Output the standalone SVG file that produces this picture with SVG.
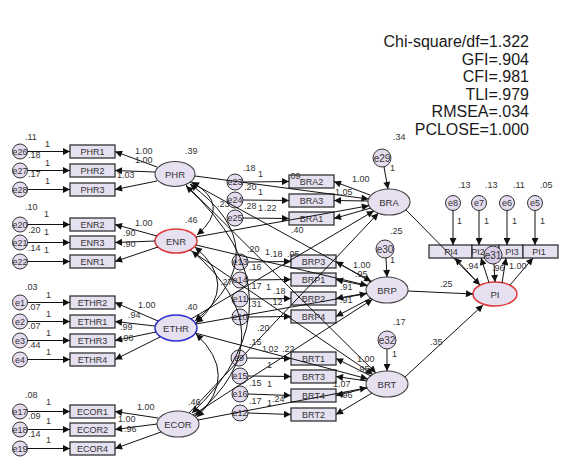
<svg xmlns="http://www.w3.org/2000/svg" width="561" height="461" viewBox="0 0 561 461">
<defs>
<marker id="ah" viewBox="0 0 10 10" refX="10" refY="5" markerWidth="9" markerHeight="7" markerUnits="userSpaceOnUse" orient="auto-start-reverse">
<path d="M0,0 L10,5 L0,10 z" fill="#111"/>
</marker>
</defs>
<style>
.box{fill:#e6e1f0;stroke:#333;stroke-width:1.3}
.lat{fill:#e6e0f0;stroke:#444;stroke-width:1.1}
.err{fill:#e4dcee;stroke:#333;stroke-width:1}
.t{font-family:"Liberation Sans",Arial,sans-serif;font-size:9px;fill:#333}
.c{text-anchor:middle}
.bl{font-size:9px}
.ll{font-size:9.5px}
.fit{font-family:"Liberation Sans",Arial,sans-serif;font-size:16px;fill:#1a1a1a;text-anchor:end}
.ln{stroke:#111;stroke-width:1;fill:none;marker-end:url(#ah)}
.cv{stroke:#111;stroke-width:1;fill:none;marker-start:url(#ah);marker-end:url(#ah)}
</style>
<rect width="561" height="461" fill="#fff"/>

<g id="fit">
<text class="fit" x="529" y="47">Chi-square/df=1.322</text>
<text class="fit" x="529" y="64.5">GFI=.904</text>
<text class="fit" x="529" y="82">CFI=.981</text>
<text class="fit" x="529" y="99.5">TLI=.979</text>
<text class="fit" x="529" y="117">RMSEA=.034</text>
<text class="fit" x="529" y="134.5">PCLOSE=1.000</text>
</g>

<g id="PHR1"><rect class="box" x="70" y="145" width="45" height="13"/><text class="t bl c" x="92.5" y="154.8">PHR1</text></g>
<g id="PHR2"><rect class="box" x="70" y="164" width="45" height="13"/><text class="t bl c" x="92.5" y="173.8">PHR2</text></g>
<g id="PHR3"><rect class="box" x="70" y="183" width="45" height="13"/><text class="t bl c" x="92.5" y="192.8">PHR3</text></g>
<g id="ENR2"><rect class="box" x="70" y="218" width="45" height="13"/><text class="t bl c" x="92.5" y="227.8">ENR2</text></g>
<g id="ENR3"><rect class="box" x="70" y="236" width="45" height="13"/><text class="t bl c" x="92.5" y="245.8">ENR3</text></g>
<g id="ENR1"><rect class="box" x="70" y="255" width="45" height="13"/><text class="t bl c" x="92.5" y="264.8">ENR1</text></g>
<g id="ETHR2"><rect class="box" x="70" y="296" width="45" height="13"/><text class="t bl c" x="92.5" y="305.8">ETHR2</text></g>
<g id="ETHR1"><rect class="box" x="70" y="315" width="45" height="13"/><text class="t bl c" x="92.5" y="324.8">ETHR1</text></g>
<g id="ETHR3"><rect class="box" x="70" y="334" width="45" height="13"/><text class="t bl c" x="92.5" y="343.8">ETHR3</text></g>
<g id="ETHR4"><rect class="box" x="70" y="353" width="45" height="13"/><text class="t bl c" x="92.5" y="362.8">ETHR4</text></g>
<g id="ECOR1"><rect class="box" x="70" y="405" width="45" height="13"/><text class="t bl c" x="92.5" y="414.8">ECOR1</text></g>
<g id="ECOR2"><rect class="box" x="70" y="423" width="45" height="13"/><text class="t bl c" x="92.5" y="432.8">ECOR2</text></g>
<g id="ECOR4"><rect class="box" x="70" y="442" width="45" height="13"/><text class="t bl c" x="92.5" y="451.8">ECOR4</text></g>

<g id="e26"><circle class="err" cx="20" cy="151.5" r="7.5"/><text class="t c" x="20" y="154.5">e26</text></g>
<g id="e27"><circle class="err" cx="20" cy="170.5" r="7.5"/><text class="t c" x="20" y="173.5">e27</text></g>
<g id="e28"><circle class="err" cx="20" cy="189.5" r="7.5"/><text class="t c" x="20" y="192.5">e28</text></g>
<g id="e20"><circle class="err" cx="20" cy="224.5" r="7.5"/><text class="t c" x="20" y="227.5">e20</text></g>
<g id="e21"><circle class="err" cx="20" cy="242.5" r="7.5"/><text class="t c" x="20" y="245.5">e21</text></g>
<g id="e22"><circle class="err" cx="20" cy="261.5" r="7.5"/><text class="t c" x="20" y="264.5">e22</text></g>
<g id="e1"><circle class="err" cx="20" cy="302.5" r="7.5"/><text class="t c" x="20" y="305.5">e1</text></g>
<g id="e2"><circle class="err" cx="20" cy="321.5" r="7.5"/><text class="t c" x="20" y="324.5">e2</text></g>
<g id="e3"><circle class="err" cx="20" cy="340.5" r="7.5"/><text class="t c" x="20" y="343.5">e3</text></g>
<g id="e4"><circle class="err" cx="20" cy="359.5" r="7.5"/><text class="t c" x="20" y="362.5">e4</text></g>
<g id="e17"><circle class="err" cx="20" cy="411.5" r="7.5"/><text class="t c" x="20" y="414.5">e17</text></g>
<g id="e18"><circle class="err" cx="20" cy="429.5" r="7.5"/><text class="t c" x="20" y="432.5">e18</text></g>
<g id="e19"><circle class="err" cx="20" cy="448.5" r="7.5"/><text class="t c" x="20" y="451.5">e19</text></g>

<g id="PHR"><ellipse class="lat" cx="175" cy="174" rx="20" ry="12.5"/><text class="t ll c" x="175" y="177.5">PHR</text></g>
<g id="ENR"><ellipse class="lat" cx="176" cy="241" rx="21" ry="12" style="stroke:#e03a3a;stroke-width:1.5"/><text class="t ll c" x="176" y="244.5">ENR</text></g>
<g id="ETHR"><ellipse class="lat" cx="176" cy="328" rx="21" ry="13" style="stroke:#2a2ad0;stroke-width:1.5"/><text class="t ll c" x="176" y="331.5">ETHR</text></g>
<g id="ECOR"><ellipse class="lat" cx="178" cy="424" rx="21" ry="13"/><text class="t ll c" x="178" y="427.5">ECOR</text></g>
<g id="BRA"><ellipse class="lat" cx="389" cy="202" rx="21" ry="13"/><text class="t ll c" x="389" y="205.5">BRA</text></g>
<g id="BRP"><ellipse class="lat" cx="387" cy="290" rx="21" ry="13"/><text class="t ll c" x="387" y="293.5">BRP</text></g>
<g id="BRT"><ellipse class="lat" cx="387" cy="384" rx="21" ry="13"/><text class="t ll c" x="387" y="387.5">BRT</text></g>

<g id="BRA2"><rect class="box" x="289" y="175" width="45" height="13"/><text class="t bl c" x="311.5" y="184.8">BRA2</text></g>
<g id="BRA3"><rect class="box" x="289" y="194" width="45" height="13"/><text class="t bl c" x="311.5" y="203.8">BRA3</text></g>
<g id="BRA1"><rect class="box" x="289" y="212" width="45" height="13"/><text class="t bl c" x="311.5" y="221.8">BRA1</text></g>
<g id="BRP3"><rect class="box" x="291" y="255" width="45" height="13"/><text class="t bl c" x="313.5" y="264.8">BRP3</text></g>
<g id="BRP1"><rect class="box" x="291" y="273" width="45" height="13"/><text class="t bl c" x="313.5" y="282.8">BRP1</text></g>
<g id="BRP2"><rect class="box" x="291" y="292" width="45" height="13"/><text class="t bl c" x="313.5" y="301.8">BRP2</text></g>
<g id="BRP4"><rect class="box" x="291" y="310" width="45" height="13"/><text class="t bl c" x="313.5" y="319.8">BRP4</text></g>
<g id="BRT1"><rect class="box" x="291" y="352" width="45" height="13"/><text class="t bl c" x="313.5" y="361.8">BRT1</text></g>
<g id="BRT3"><rect class="box" x="291" y="370" width="45" height="13"/><text class="t bl c" x="313.5" y="379.8">BRT3</text></g>
<g id="BRT4"><rect class="box" x="291" y="389" width="45" height="13"/><text class="t bl c" x="313.5" y="398.8">BRT4</text></g>
<g id="BRT2"><rect class="box" x="291" y="408" width="45" height="13"/><text class="t bl c" x="313.5" y="417.8">BRT2</text></g>

<g id="e23"><circle class="err" cx="235" cy="182" r="8"/><text class="t c" x="235" y="185">e23</text></g>
<g id="e24"><circle class="err" cx="235" cy="200" r="8"/><text class="t c" x="235" y="203">e24</text></g>
<g id="e25"><circle class="err" cx="235" cy="218" r="8"/><text class="t c" x="235" y="221">e25</text></g>
<g id="e13"><circle class="err" cx="240" cy="262" r="8"/><text class="t c" x="240" y="265">e13</text></g>
<g id="e14"><circle class="err" cx="240" cy="280" r="8"/><text class="t c" x="240" y="283">e14</text></g>
<g id="e11"><circle class="err" cx="240" cy="299" r="8"/><text class="t c" x="240" y="302">e11</text></g>
<g id="e10"><circle class="err" cx="240" cy="317" r="8"/><text class="t c" x="240" y="320">e10</text></g>
<g id="e9"><circle class="err" cx="239" cy="358" r="8"/><text class="t c" x="239" y="361">e9</text></g>
<g id="e15"><circle class="err" cx="240" cy="376" r="8"/><text class="t c" x="240" y="379">e15</text></g>
<g id="e16"><circle class="err" cx="240" cy="394" r="8"/><text class="t c" x="240" y="397">e16</text></g>
<g id="e12"><circle class="err" cx="240" cy="413" r="8"/><text class="t c" x="240" y="416">e12</text></g>

<g id="e29"><circle class="err" cx="382" cy="158" r="9"/><text class="t c" x="382" y="161.5" style="font-size:10px">e29</text></g>
<g id="e30"><circle class="err" cx="385" cy="249" r="9"/><text class="t c" x="385" y="252.5" style="font-size:10px">e30</text></g>
<g id="e32"><circle class="err" cx="387" cy="340" r="9"/><text class="t c" x="387" y="343.5" style="font-size:10px">e32</text></g>

<g id="PI4"><rect class="box" x="429" y="245" width="43" height="13"/><text class="t bl c" x="451" y="254.8">PI4</text></g>
<g id="PI2"><rect class="box" x="472" y="245" width="27" height="13"/><text class="t bl c" x="478" y="254.8">PI2</text></g>
<g id="PI3"><rect class="box" x="499" y="245" width="24" height="13"/><text class="t bl c" x="512" y="254.8">PI3</text></g>
<g id="PI1"><rect class="box" x="523" y="245" width="35" height="13"/><text class="t bl c" x="539" y="254.8">PI1</text></g>
<g id="e8"><circle class="err" cx="453" cy="203" r="7.5"/><text class="t c" x="453" y="206">e8</text></g>
<g id="e7"><circle class="err" cx="479" cy="203" r="7.5"/><text class="t c" x="479" y="206">e7</text></g>
<g id="e6"><circle class="err" cx="507" cy="203" r="7.5"/><text class="t c" x="507" y="206">e6</text></g>
<g id="e5"><circle class="err" cx="535" cy="203" r="7.5"/><text class="t c" x="535" y="206">e5</text></g>
<g id="e31"><circle class="err" cx="493" cy="255" r="9" style="fill:#d6cce6"/><text class="t c" x="493" y="258.5" style="font-size:10px">e31</text></g>
<g id="PI"><ellipse class="lat" cx="495" cy="294" rx="22" ry="12" style="stroke:#e03a3a;stroke-width:1.5"/><text class="t ll c" x="495" y="297.5">PI</text></g>

<g id="connectors">
<line class="ln" x1="157" y1="167" x2="115" y2="151.5"/>
<line class="ln" x1="155" y1="172" x2="115" y2="170.5"/>
<line class="ln" x1="157" y1="181" x2="115" y2="189.5"/>
<line class="ln" x1="157" y1="236" x2="115" y2="224.5"/>
<line class="ln" x1="155" y1="241" x2="115" y2="242.5"/>
<line class="ln" x1="158" y1="247" x2="115" y2="261.5"/>
<line class="ln" x1="158" y1="321" x2="115" y2="302.5"/>
<line class="ln" x1="155" y1="326" x2="115" y2="321.5"/>
<line class="ln" x1="156" y1="332" x2="115" y2="340.5"/>
<line class="ln" x1="160" y1="337" x2="115" y2="359.5"/>
<line class="ln" x1="158" y1="418" x2="115" y2="411.5"/>
<line class="ln" x1="157" y1="424" x2="115" y2="429.5"/>
<line class="ln" x1="161" y1="432" x2="115" y2="448.5"/>
<line class="ln" x1="27.5" y1="151.5" x2="70" y2="151.5"/>
<line class="ln" x1="27.5" y1="170.5" x2="70" y2="170.5"/>
<line class="ln" x1="27.5" y1="189.5" x2="70" y2="189.5"/>
<line class="ln" x1="27.5" y1="224.5" x2="70" y2="224.5"/>
<line class="ln" x1="27.5" y1="242.5" x2="70" y2="242.5"/>
<line class="ln" x1="27.5" y1="261.5" x2="70" y2="261.5"/>
<line class="ln" x1="27.5" y1="302.5" x2="70" y2="302.5"/>
<line class="ln" x1="27.5" y1="321.5" x2="70" y2="321.5"/>
<line class="ln" x1="27.5" y1="340.5" x2="70" y2="340.5"/>
<line class="ln" x1="27.5" y1="359.5" x2="70" y2="359.5"/>
<line class="ln" x1="27.5" y1="411.5" x2="70" y2="411.5"/>
<line class="ln" x1="27.5" y1="429.5" x2="70" y2="429.5"/>
<line class="ln" x1="27.5" y1="448.5" x2="70" y2="448.5"/>
<line class="ln" x1="243" y1="182" x2="289" y2="181.5"/>
<line class="ln" x1="243" y1="200" x2="289" y2="200.5"/>
<line class="ln" x1="243" y1="218" x2="289" y2="218.5"/>
<line class="ln" x1="248" y1="262" x2="291" y2="261.5"/>
<line class="ln" x1="248" y1="280" x2="291" y2="279.5"/>
<line class="ln" x1="248" y1="299" x2="291" y2="298.5"/>
<line class="ln" x1="248" y1="317" x2="291" y2="316.5"/>
<line class="ln" x1="247" y1="358" x2="291" y2="358.5"/>
<line class="ln" x1="248" y1="376" x2="291" y2="376.5"/>
<line class="ln" x1="248" y1="394" x2="291" y2="395.5"/>
<line class="ln" x1="248" y1="413" x2="291" y2="414.5"/>
<line class="ln" x1="370" y1="195" x2="334" y2="181.5"/>
<line class="ln" x1="368" y1="201" x2="334" y2="200.5"/>
<line class="ln" x1="371" y1="208" x2="334" y2="218.5"/>
<line class="ln" x1="371" y1="282" x2="336" y2="261.5"/>
<line class="ln" x1="367" y1="286" x2="336" y2="279.5"/>
<line class="ln" x1="367" y1="293" x2="336" y2="298.5"/>
<line class="ln" x1="371" y1="298" x2="336" y2="316.5"/>
<line class="ln" x1="371" y1="376" x2="336" y2="358.5"/>
<line class="ln" x1="367" y1="381" x2="336" y2="376.5"/>
<line class="ln" x1="367" y1="388" x2="336" y2="395.5"/>
<line class="ln" x1="372" y1="393" x2="336" y2="414.5"/>
<line class="ln" x1="384" y1="167" x2="388" y2="189"/>
<line class="ln" x1="386" y1="258" x2="387" y2="277"/>
<line class="ln" x1="387" y1="349" x2="387" y2="371"/>
<line class="ln" x1="195" y1="176" x2="368.5" y2="199"/>
<line class="ln" x1="190" y1="182" x2="371.3" y2="281.4"/>
<line class="ln" x1="186" y1="185" x2="375.9" y2="373"/>
<line class="ln" x1="196" y1="237" x2="368.9" y2="205.7"/>
<line class="ln" x1="196" y1="245" x2="367.3" y2="285.4"/>
<line class="ln" x1="190" y1="250" x2="372.8" y2="374.4"/>
<line class="ln" x1="191" y1="319" x2="373.8" y2="211"/>
<line class="ln" x1="196" y1="324" x2="366.8" y2="293.6"/>
<line class="ln" x1="195" y1="333" x2="367.7" y2="378.9"/>
<line class="ln" x1="189" y1="413" x2="378.3" y2="213.2"/>
<line class="ln" x1="193" y1="415" x2="372.4" y2="299.4"/>
<line class="ln" x1="198" y1="420" x2="366.9" y2="387.8"/>
<path class="cv" d="M192,182 Q232,205 197,235"/>
<path class="cv" d="M190,184 Q280,250 195,321"/>
<path class="cv" d="M186,186 Q310,300 192,413"/>
<path class="cv" d="M195,247 Q240,285 196,323"/>
<path class="cv" d="M192,251 Q290,335 195,416"/>
<path class="cv" d="M196,334 Q240,375 197,417"/>
<line class="ln" x1="453" y1="210.5" x2="453" y2="245"/>
<line class="ln" x1="479" y1="210.5" x2="479" y2="245"/>
<line class="ln" x1="507" y1="210.5" x2="507" y2="245"/>
<line class="ln" x1="535" y1="210.5" x2="535" y2="245"/>
<line class="ln" x1="480" y1="285" x2="455" y2="258"/>
<line class="ln" x1="489" y1="282.5" x2="481" y2="258"/>
<line class="ln" x1="502" y1="283" x2="506" y2="258"/>
<line class="ln" x1="510" y1="285" x2="533" y2="258"/>
<line class="ln" x1="494" y1="264" x2="495" y2="282"/>
<line class="ln" x1="406" y1="210" x2="480" y2="285"/>
<line class="ln" x1="408" y1="291" x2="473" y2="294"/>
<line class="ln" x1="405" y1="377" x2="483" y2="305"/>
</g>

<g id="labels" class="t">
<text x="25" y="140">.11</text><text x="45" y="147">1</text><text x="28" y="158">.18</text>
<text x="45" y="166">1</text><text x="28" y="177">.17</text><text x="45" y="184">1</text>
<text x="135" y="154">1.00</text><text x="135" y="163">1.00</text><text x="117" y="178">1.03</text>
<text x="185" y="154">.39</text>
<text x="25" y="210">.10</text><text x="44" y="217">1</text><text x="28" y="233">.20</text>
<text x="44" y="235">1</text><text x="28" y="251">.14</text><text x="44" y="253">1</text>
<text x="135" y="226">1.00</text><text x="123" y="236">.90</text><text x="123" y="247">.90</text>
<text x="185" y="223">.46</text>
<text x="25" y="290">.03</text><text x="46" y="298">1</text><text x="28" y="310">.07</text>
<text x="46" y="317">1</text><text x="28" y="329">.07</text><text x="46" y="336">1</text>
<text x="28" y="348">.44</text><text x="46" y="355">1</text>
<text x="138" y="308">1.00</text><text x="128" y="318">.94</text><text x="120" y="330">.99</text><text x="121" y="341">.98</text>
<text x="185" y="310">.40</text>
<text x="25" y="398">.08</text><text x="46" y="405">1</text><text x="28" y="419">.09</text>
<text x="46" y="424">1</text><text x="28" y="437">.14</text><text x="46" y="443">1</text>
<text x="137" y="410">1.00</text><text x="118" y="422">1.00</text><text x="124" y="432">.96</text>
<text x="188" y="405">.46</text>
<text x="243" y="171">.18</text><text x="258" y="177">1</text><text x="244" y="190">.20</text>
<text x="258" y="195">1</text><text x="244" y="209">.28</text><text x="217" y="207">.23</text>
<text x="258" y="211">1</text><text x="264" y="211">.22</text><text x="288" y="179">.09</text>
<text x="291" y="233">.40</text>
<text x="352" y="182">1.00</text><text x="335" y="195">1.05</text>
<text x="393" y="140">.34</text><text x="390" y="171">1</text>
<text x="247" y="252">.20</text><text x="265" y="255">1</text><text x="270" y="257">.18</text><text x="287" y="257">.05</text>
<text x="249" y="270">.16</text><text x="220" y="285">.27</text><text x="249" y="289">.17</text>
<text x="266" y="290">1</text><text x="273" y="294">.18</text><text x="270" y="305">.12</text><text x="249" y="307">.31</text>
<text x="390" y="234">.25</text><text x="390" y="263">1</text>
<text x="353" y="268">1.00</text><text x="355" y="277">.95</text><text x="340" y="290">.91</text><text x="340" y="303">.91</text>
<text x="257" y="331">.20</text><text x="249" y="345">.15</text>
<text x="262" y="352">1</text><text x="266" y="352">.02</text><text x="282" y="352">.22</text>
<text x="267" y="368">1</text><text x="249" y="386">.15</text>
<text x="267" y="387">1</text><text x="249" y="404">.17</text><text x="272" y="402">.24</text>
<text x="267" y="406">1</text>
<text x="393" y="325">.17</text><text x="392" y="357">1</text>
<text x="357" y="362">1.00</text><text x="357" y="372">.95</text><text x="333" y="387">1.07</text><text x="340" y="398">.96</text>
<text x="458" y="188">.13</text><text x="485" y="188">.13</text><text x="513" y="188">.11</text><text x="540" y="188">.05</text>
<text x="457" y="224">1</text><text x="484" y="224">1</text><text x="512" y="224">1</text><text x="540" y="224">1</text>
<text x="466" y="269">.94</text><text x="492" y="271">.96</text><text x="509" y="269">1.00</text>
<text x="440" y="287">.25</text><text x="430" y="345">.35</text>
</g>
</svg>
